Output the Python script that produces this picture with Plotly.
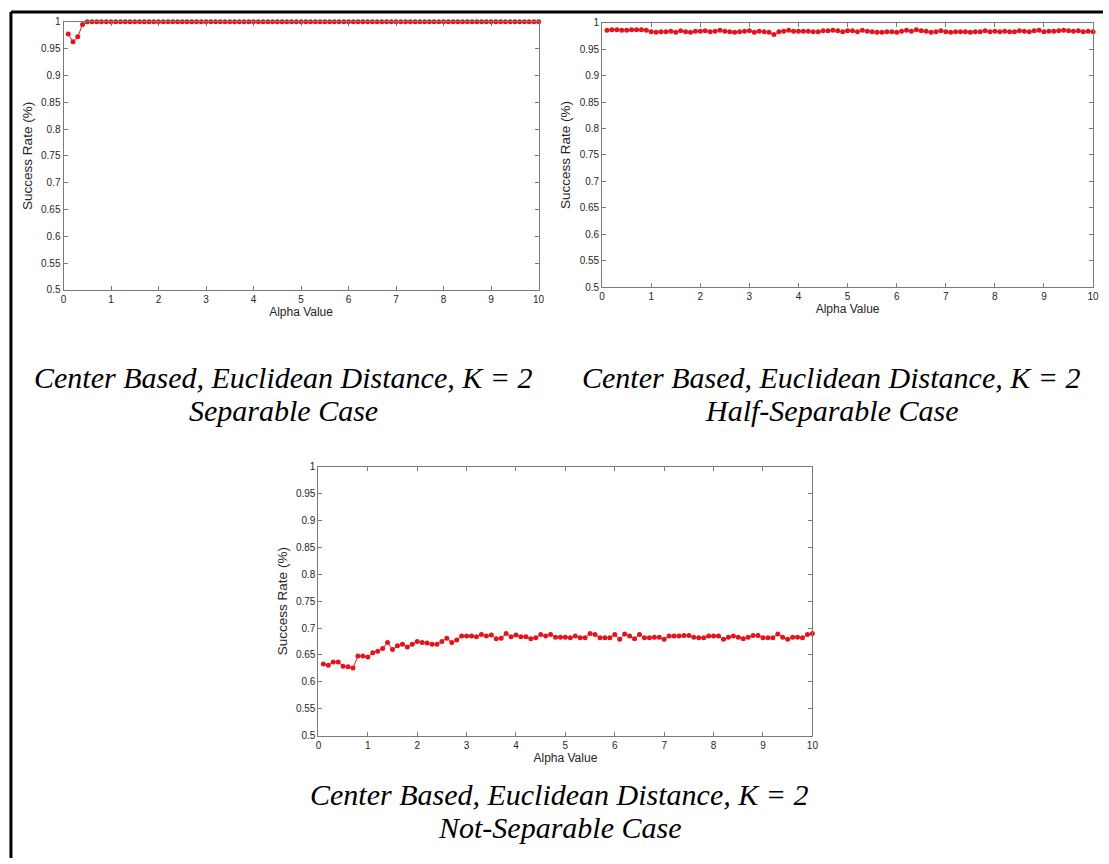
import plotly.graph_objects as go

W, H = 1109, 864

alpha = [round(0.1 * i, 1) for i in range(1, 101)]

sep_rate = [
    0.977, 0.963, 0.972, 0.995, 1.0, 1.0, 1.0, 1.0, 1.0, 1.0,
    1.0, 1.0, 1.0, 1.0, 1.0, 1.0, 1.0, 1.0, 1.0, 1.0,
    1.0, 1.0, 1.0, 1.0, 1.0, 1.0, 1.0, 1.0, 1.0, 1.0,
    1.0, 1.0, 1.0, 1.0, 1.0, 1.0, 1.0, 1.0, 1.0, 1.0,
    1.0, 1.0, 1.0, 1.0, 1.0, 1.0, 1.0, 1.0, 1.0, 1.0,
    1.0, 1.0, 1.0, 1.0, 1.0, 1.0, 1.0, 1.0, 1.0, 1.0,
    1.0, 1.0, 1.0, 1.0, 1.0, 1.0, 1.0, 1.0, 1.0, 1.0,
    1.0, 1.0, 1.0, 1.0, 1.0, 1.0, 1.0, 1.0, 1.0, 1.0,
    1.0, 1.0, 1.0, 1.0, 1.0, 1.0, 1.0, 1.0, 1.0, 1.0,
    1.0, 1.0, 1.0, 1.0, 1.0, 1.0, 1.0, 1.0, 1.0, 1.0,
]

half_rate = [
    0.986, 0.987, 0.987, 0.986, 0.986, 0.987, 0.987, 0.987, 0.986, 0.983,
    0.982, 0.983, 0.983, 0.984, 0.982, 0.985, 0.983, 0.982, 0.984, 0.984,
    0.985, 0.983, 0.984, 0.986, 0.984, 0.983, 0.982, 0.983, 0.984, 0.985,
    0.982, 0.984, 0.983, 0.982, 0.978, 0.983, 0.984, 0.986, 0.984, 0.984,
    0.984, 0.984, 0.983, 0.983, 0.985, 0.985, 0.986, 0.985, 0.983, 0.985,
    0.985, 0.983, 0.986, 0.984, 0.983, 0.982, 0.982, 0.983, 0.983, 0.982,
    0.984, 0.986, 0.984, 0.987, 0.985, 0.984, 0.982, 0.983, 0.985, 0.983,
    0.982, 0.983, 0.983, 0.983, 0.982, 0.983, 0.983, 0.985, 0.983, 0.984,
    0.983, 0.984, 0.983, 0.983, 0.985, 0.984, 0.983, 0.985, 0.986, 0.983,
    0.984, 0.984, 0.985, 0.986, 0.985, 0.984, 0.985, 0.983, 0.984, 0.983,
]

notsep_rate = [
    0.633, 0.631, 0.637, 0.637, 0.629, 0.628, 0.626, 0.648, 0.648, 0.646,
    0.654, 0.657, 0.662, 0.673, 0.660, 0.667, 0.670, 0.665, 0.670, 0.675,
    0.673, 0.672, 0.670, 0.670, 0.675, 0.681, 0.673, 0.678, 0.685, 0.685,
    0.685, 0.684, 0.688, 0.685, 0.687, 0.680, 0.681, 0.690, 0.684, 0.687,
    0.684, 0.684, 0.680, 0.682, 0.688, 0.685, 0.688, 0.683, 0.683, 0.683,
    0.682, 0.685, 0.682, 0.682, 0.690, 0.688, 0.682, 0.682, 0.682, 0.688,
    0.679, 0.689, 0.685, 0.680, 0.688, 0.682, 0.682, 0.683, 0.683, 0.679,
    0.685, 0.685, 0.685, 0.686, 0.686, 0.683, 0.682, 0.682, 0.685, 0.685,
    0.685, 0.679, 0.683, 0.685, 0.683, 0.680, 0.683, 0.686, 0.686, 0.682,
    0.682, 0.682, 0.689, 0.683, 0.679, 0.683, 0.683, 0.682, 0.688, 0.690,
]

x_ticks = [0, 1, 2, 3, 4, 5, 6, 7, 8, 9, 10]
y_ticks = [0.5, 0.55, 0.6, 0.65, 0.7, 0.75, 0.8, 0.85, 0.9, 0.95, 1.0]
y_tick_text = ["0.5", "0.55", "0.6", "0.65", "0.7", "0.75", "0.8", "0.85", "0.9", "0.95", "1"]

title_line1 = "Center Based, Euclidean Distance, K = 2"
case_names = ["Separable Case", "Half-Separable Case", "Not-Separable Case"]

# plot areas in pixels: (left, right, top, bottom)
boxes = [(61, 540, 16, 288), (604, 1099, 17, 285), (318, 816, 467, 740)]
# caption centre x, first-line y, second-line y
title_pos = [(283, 377, 410), (835, 377, 410), (561, 800, 833)]
series = [sep_rate, half_rate, notsep_rate]

RED = "#e3151c"
AX = "#7a7a7a"
TXT = "#262626"
SANS = '"Liberation Sans", Arial, sans-serif'
SERIF = '"Liberation Serif", "Times New Roman", Times, serif'

fig = go.Figure()
layout = dict(
    width=W, height=H,
    margin=dict(l=0, r=0, t=0, b=0),
    paper_bgcolor="white", plot_bgcolor="white",
    showlegend=False,
    annotations=[], shapes=[],
)

for i, (vals, box) in enumerate(zip(series, boxes)):
    n = "" if i == 0 else str(i + 1)
    l, r, t, b = box
    xa = dict(
        domain=[l / W, r / W], range=[0, 10],
        tickvals=x_ticks, ticktext=[str(v) for v in x_ticks],
        ticks="inside", ticklen=4, tickcolor=AX, tickwidth=1,
        showline=True, linecolor=AX, linewidth=1, mirror="ticks",
        showgrid=False, zeroline=False,
        tickfont=dict(family=SANS, size=10, color=TXT),
        title=dict(text="Alpha Value", standoff=0,
                   font=dict(family=SANS, size=12, color=TXT)),
        anchor="y" + n,
    )
    ya = dict(
        domain=[1 - b / H, 1 - t / H], range=[0.5, 1.0],
        tickvals=y_ticks, ticktext=y_tick_text,
        ticks="inside", ticklen=4, tickcolor=AX, tickwidth=1,
        showline=True, linecolor=AX, linewidth=1, mirror="ticks",
        showgrid=False, zeroline=False,
        tickfont=dict(family=SANS, size=10, color=TXT),
        title=dict(text="Success Rate (%)", standoff=5,
                   font=dict(family=SANS, size=13.5, color=TXT)),
        anchor="x" + n,
    )
    layout["xaxis" + n] = xa
    layout["yaxis" + n] = ya
    fig.add_trace(go.Scatter(
        x=alpha, y=vals, mode="lines+markers",
        line=dict(color=RED, width=1),
        marker=dict(color=RED, size=5),
        cliponaxis=False,
        xaxis="x" + n, yaxis="y" + n,
    ))
    cx, cy1, cy2 = title_pos[i]
    for txt, cy in ((title_line1, cy1), (case_names[i], cy2)):
        layout["annotations"].append(dict(
            x=cx / W, y=1 - cy / H, xref="paper", yref="paper",
            xanchor="center", yanchor="middle", showarrow=False,
            text="<i>" + txt + "</i>",
            font=dict(family=SERIF, size=30, color="black"),
        ))

# outer frame (left and top edges of the figure box)
layout["shapes"].append(dict(type="line", xref="paper", yref="paper",
                             x0=8 / W, x1=1.0, y0=1 - 6 / H, y1=1 - 6 / H,
                             line=dict(color="black", width=3)))
layout["shapes"].append(dict(type="line", xref="paper", yref="paper",
                             x0=8 / W, x1=8 / W, y0=0, y1=1 - 6 / H,
                             line=dict(color="black", width=3)))

fig.update_layout(**layout)
fig.write_html("out.html")
